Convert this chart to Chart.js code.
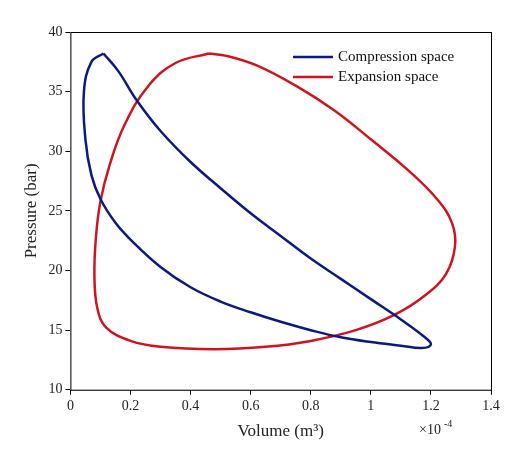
<!DOCTYPE html>
<html><head><meta charset="utf-8">
<script src="https://cdn.jsdelivr.net/npm/chart.js@4/dist/chart.umd.min.js"></script>
<style>html,body{margin:0;background:#fff}#w{width:528px;height:459px}</style>
</head><body><div id="w"><canvas id="c"></canvas></div>
<script>
// Volume in units of 1e-4 m^3, pressure in bar
const compVol = [0.11,0.07,0.045,0.05,0.07,0.10,0.15,0.20,0.30,0.40,0.50,0.60,0.70,0.80,0.90,1.00,1.10,1.17,1.20,1.18,1.10,1.00,0.90,0.80,0.70,0.60,0.50,0.40,0.30,0.22,0.16,0.11];
const compP   = [38.2,37.5,35.0,31.0,28.0,26.0,24.0,22.6,20.3,18.6,17.4,16.5,15.7,15.0,14.4,14.0,13.7,13.5,13.8,14.4,15.9,17.6,19.3,21.0,22.9,24.8,26.9,29.1,31.7,34.3,36.7,38.2];
const expVol = [0.46,0.35,0.26,0.18,0.13,0.10,0.085,0.08,0.09,0.12,0.20,0.30,0.48,0.65,0.80,0.95,1.08,1.18,1.25,1.28,1.27,1.22,1.12,1.00,0.88,0.75,0.62,0.52,0.46];
const expP   = [38.2,37.4,35.5,32.2,28.8,25.8,22.8,19.5,16.8,15.2,14.1,13.6,13.4,13.6,14.1,15.0,16.3,17.9,19.7,22.0,24.0,26.0,28.5,31.0,33.4,35.5,37.2,38.0,38.2];
const xTicks = [0,0.2,0.4,0.6,0.8,1,1.2,1.4];
const yTicks = [10,15,20,25,30,35,40];
const toPts=(xs,ys)=>xs.map((x,i)=>({x,y:ys[i]}));
const F='Liberation Serif';
Chart.defaults.font.family=F;
const box={id:'box',afterDraw(c){const a=c.chartArea,g=c.ctx;g.save();g.strokeStyle='#000';g.lineWidth=1;g.strokeRect(a.left+.5,a.top+.5,a.width,a.height);
g.font='14px '+F;g.fillStyle='#222';g.textAlign='left';g.textBaseline='alphabetic';g.fillText('×10',a.right-72,a.bottom+44);g.font='10px '+F;g.fillText('-4',a.right-47,a.bottom+37);
g.font='15px '+F;g.textBaseline='middle';
c.data.datasets.forEach((d,i)=>{const y=a.top+25+i*20;g.strokeStyle=d.borderColor;g.lineWidth=2.5;g.beginPath();g.moveTo(a.right-198,y);g.lineTo(a.right-158,y);g.stroke();g.fillStyle='#111';g.fillText(d.label,a.right-153,y);});
g.restore();}};
new Chart(document.getElementById('c'),{type:'scatter',
data:{datasets:[
{label:'Compression space',data:toPts(compVol,compP),showLine:true,borderColor:'#0a1a80',backgroundColor:'#0a1a80',borderWidth:2.5,pointRadius:0,tension:0.4},
{label:'Expansion space',data:toPts(expVol,expP),showLine:true,borderColor:'#d0141e',backgroundColor:'#d0141e',borderWidth:2.5,pointRadius:0,tension:0.4}]},
options:{responsive:true,maintainAspectRatio:false,animation:false,
layout:{padding:{top:32,right:37,left:17,bottom:13}},
plugins:{legend:{display:false},tooltip:{enabled:false}},
scales:{
x:{type:'linear',min:0,max:1.4,afterBuildTicks(a){a.ticks=xTicks.map(v=>({value:v}));},
ticks:{color:'#222',font:{size:14},callback:v=>String(v)},grid:{drawOnChartArea:false,tickLength:5,color:'#000'},
title:{display:true,text:'Volume (m³)',color:'#222',font:{size:17}}},
y:{min:10,max:40,afterBuildTicks(a){a.ticks=yTicks.map(v=>({value:v}));},
ticks:{color:'#222',font:{size:14}},grid:{drawOnChartArea:false,tickLength:5,color:'#000'},
title:{display:true,text:'Pressure (bar)',color:'#222',font:{size:17}}}}},
plugins:[box]});
</script></body></html>
